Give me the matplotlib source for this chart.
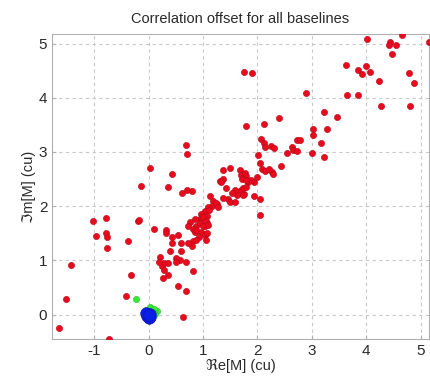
import numpy as np
import matplotlib.pyplot as plt

# red: all baselines, offsets
red_re = [4.02, 4.43, 4.42, 4.55, 4.66, 5.15, 4.47, 3.62, 3.84, 3.99, 3.93, 4.06, 4.23, 4.78, 4.88,
          3.65, 3.84, 4.28, 4.80, 3.22, 3.47, 3.28, 3.03, 3.03, 3.17, 3.01, 3.23, 2.89, 1.76, 1.91,
          1.80, 2.13, 2.40, 2.06, 2.12, 2.14, 2.25, 2.30, 2.63, 2.66, 2.72, 2.79, 2.73, 2.54, 2.43,
          2.01, 0.68, 0.71,
          2.05, 2.08, 2.14, 2.26, 2.29, 2.21, 2.00, 1.94, 1.88, 1.82, 1.73, 1.80, 1.70, 1.66, 1.76,
          1.62, 1.59, 1.37, 1.49, 1.68, 1.70, 1.77, 1.80, 1.71, 1.80, 1.31, 1.37, 1.34, 1.43, 1.53,
          1.46, 1.49, 1.59, 1.37, 1.74, 1.94, 2.05, 2.05,
          0.70, 0.79, 0.61, 0.02, 0.43, -0.14, 0.36,
          1.13, 1.19, 1.25, 1.16, 1.10, 1.04, 1.07, 0.97, 0.94, 0.85, 0.76, 0.73, 0.88, 0.82, 0.85,
          1.04, 1.07, 1.04, 1.00, 1.06, 0.94, 1.00, 1.09, 0.88, 0.97, 1.03, 0.92, 0.81, 0.80, 0.88,
          1.06, 1.08, 1.11, 1.24, 1.27,
          0.72, 0.60, 0.60, 0.57, 0.33, 0.33, 0.44, 0.44, 0.39, 0.51, 0.10, 0.55, 0.51, 0.22, 0.25,
          0.29, 0.35, 0.29, 0.35, 0.26, 0.19, 0.69, 0.81, 0.68, 0.63, 0.55,
          -1.02, -0.96, -0.78, -0.78, -0.77, -0.77, -0.38, -0.20, -0.17, -1.43, -0.33, -0.42, -1.51,
          -1.65, -0.73]
red_im = [5.08, 5.02, 4.97, 4.97, 5.16, 5.02, 4.81, 4.61, 4.51, 4.59, 4.44, 4.48, 4.31, 4.46, 4.27,
          4.05, 4.05, 3.85, 3.84, 3.73, 3.64, 3.42, 3.43, 3.32, 3.17, 2.99, 2.90, 4.08, 4.48, 4.45,
          3.47, 3.52, 3.62, 3.24, 3.16, 3.10, 3.11, 3.07, 3.10, 3.04, 3.22, 3.22, 3.02, 2.99, 2.74,
          2.94, 3.13, 2.97,
          2.80, 2.68, 2.65, 2.64, 2.59, 2.68, 2.53, 2.45, 2.48, 2.44, 2.34, 2.36, 2.30, 2.27, 2.22,
          2.20, 2.30, 2.66, 2.70, 2.66, 2.57, 2.61, 2.55, 2.50, 2.48, 2.47, 2.50, 2.44, 2.34, 2.25,
          2.13, 2.07, 2.07, 2.16, 2.20, 2.19, 2.14, 1.84,
          2.29, 2.28, 2.25, 2.70, 2.60, 2.38, 2.36,
          2.19, 2.10, 2.04, 2.01, 1.98, 1.92, 1.82, 1.85, 1.76, 1.76, 1.70, 1.64, 1.64, 1.58, 1.52,
          1.64, 1.69, 1.49, 1.81, 1.72, 1.69, 1.63, 1.66, 1.57, 1.53, 1.47, 1.44, 1.35, 1.26, 1.38,
          1.38, 1.50, 1.93, 2.06, 1.99,
          1.32, 1.32, 1.17, 1.01, 1.57, 1.50, 1.44, 1.32, 1.17, 1.04, 1.58, 1.47, 0.98, 1.07, 0.89,
          0.96, 0.96, 0.83, 0.74, 0.68, 0.98, 0.98, 0.80, 0.43, -0.04, 0.52,
          1.72, 1.46, 1.79, 1.50, 1.44, 1.23, 1.35, 1.72, 1.75, 0.91, 0.73, 0.34, 0.28,
          -0.24, -0.44]

green_re = [-0.23, 0.02, 0.15, 0.06, 0.10, -0.05, 0.12]
green_im = [0.28, 0.14, 0.07, 0.01, 0.10, 0.08, 0.02]

blue_re = [-0.02, 0.02, 0.00, -0.04, 0.03, 0.01]
blue_im = [-0.02, 0.02, -0.06, 0.03, -0.04, 0.00]

plt.rcParams['font.family'] = ['Liberation Sans', 'DejaVu Sans']
plt.rcParams['axes.unicode_minus'] = False

fig = plt.figure(figsize=(4.31, 3.81), dpi=100)
ax = fig.add_axes([0.121, 0.110, 0.874, 0.800])

ax.scatter(red_re, red_im, s=20, c='#ea0a1e', edgecolors='#b00818', linewidths=0.4, zorder=3)
ax.scatter(green_re, green_im, s=20, c='#35ea35', edgecolors='#28c028', linewidths=0.4, zorder=4)
ax.scatter(blue_re, blue_im, s=70, c='#0a1ee6', edgecolors='#0a14b0', linewidths=0.4, zorder=5)

ax.set_xlim(-1.77, 5.15)
ax.set_ylim(-0.45, 5.17)
ax.set_xticks([-1, 0, 1, 2, 3, 4, 5])
ax.set_yticks([0, 1, 2, 3, 4, 5])
ax.grid(True, color='#c8c8c8', linestyle=(0, (3, 3)), linewidth=0.8)
ax.set_axisbelow(True)
for s in ax.spines.values():
    s.set_color('#b0b0b0')
    s.set_linewidth(0.8)
ax.tick_params(direction='in', length=3, colors='#b0b0b0', labelcolor='#2a2a2a', labelsize=11)

ax.set_title('Correlation offset for all baselines', fontsize=10.5, color='#2a2a2a', pad=8)
ax.set_xlabel('ℜe[M] (cu)', fontsize=10.5, color='#2a2a2a', labelpad=1)
ax.set_ylabel('ℑm[M] (cu)', fontsize=10.5, color='#2a2a2a', labelpad=2)

fig.savefig('out.png', dpi=100)
